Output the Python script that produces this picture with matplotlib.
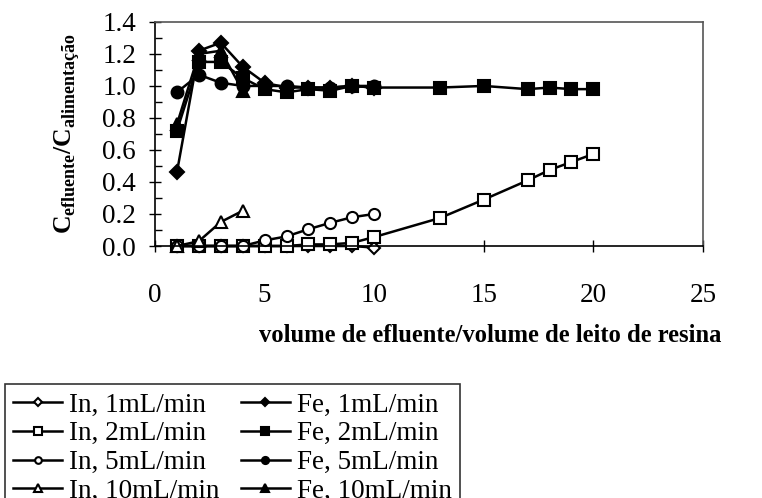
import matplotlib
matplotlib.use("Agg")
import matplotlib.pyplot as plt
from matplotlib.ticker import MultipleLocator, FormatStrFormatter

plt.rcParams['font.family'] = 'Liberation Serif'
plt.rcParams['mathtext.fontset'] = 'custom'
plt.rcParams['mathtext.rm'] = 'Liberation Serif'
plt.rcParams['mathtext.bf'] = 'Liberation Serif:bold'

# dados
x_10 = [1, 2, 3, 4, 5, 6, 7, 8, 9, 10]
x_20 = [1, 2, 3, 4, 5, 6, 7, 8, 9, 10, 13, 15, 17, 18, 19, 20]
x_4 = [1, 2, 3, 4]

in_1 = [0.0, 0.0, 0.0, 0.0, 0.0, 0.0, 0.0, 0.0, 0.0, -0.01]
in_2 = [0.0, 0.0, 0.0, 0.0, 0.0, 0.0, 0.01, 0.01, 0.02, 0.056, 0.175, 0.29, 0.41, 0.475, 0.525, 0.575]
in_5 = [0.0, 0.0, 0.0, 0.0, 0.035, 0.06, 0.105, 0.145, 0.18, 0.2]
in_10 = [0.0, 0.03, 0.15, 0.22]

fe_1 = [0.46, 1.22, 1.27, 1.12, 1.02, 0.99, 0.99, 0.99, 1.0, 0.99]
fe_2 = [0.72, 1.15, 1.15, 1.05, 0.98, 0.96, 0.98, 0.97, 1.0, 0.99, 0.99, 1.0, 0.98, 0.99, 0.98, 0.98]
fe_5 = [0.96, 1.07, 1.02, 1.0, 1.0, 1.0, 0.99, 0.99, 1.0, 1.0]
fe_10 = [0.76, 1.2, 1.22, 0.97]

fig = plt.figure(figsize=(7.62, 4.98), dpi=100)
ax = fig.add_axes([0.2034, 0.506, 0.7192, 0.45])

kw = dict(color='black', linewidth=1.8, markeredgewidth=1.5, clip_on=False)
h = []
h += ax.plot(x_10, in_1, marker='D', mfc='white', ms=6.5, label='In, 1mL/min', **kw)
h += ax.plot(x_20, in_2, marker='s', mfc='white', ms=8.5, label='In, 2mL/min', **kw)
h += ax.plot(x_10, in_5, marker='o', mfc='white', ms=8, label='In, 5mL/min', **kw)
h += ax.plot(x_4, in_10, marker='^', mfc='white', ms=8.5, label='In, 10mL/min', **kw)
h += ax.plot(x_10, fe_1, marker='D', mfc='black', ms=7, label='Fe, 1mL/min', **kw)
h += ax.plot(x_20, fe_2, marker='s', mfc='black', ms=8.5, label='Fe, 2mL/min', **kw)
h += ax.plot(x_10, fe_5, marker='o', mfc='black', ms=8.5, label='Fe, 5mL/min', **kw)
h += ax.plot(x_4, fe_10, marker='^', mfc='black', ms=8.5, label='Fe, 10mL/min', **kw)

ax.set_xlim(0, 25)
ax.set_ylim(0, 1.4)
ax.xaxis.set_major_locator(MultipleLocator(5))
ax.yaxis.set_major_locator(MultipleLocator(0.2))
ax.yaxis.set_minor_locator(MultipleLocator(0.1))
ax.yaxis.set_major_formatter(FormatStrFormatter('%.1f'))
ax.tick_params(axis='x', direction='inout', length=9, width=1, labelsize=19.5, pad=22)
ax.tick_params(axis='y', which='major', direction='inout', length=9, width=1, labelsize=19.5, pad=9)
ax.tick_params(axis='y', which='minor', direction='in', length=5, width=1)

for s in ['top', 'right']:
    ax.spines[s].set_color('#555555')
    ax.spines[s].set_linewidth(1.2)
ax.spines['left'].set_linewidth(1.2)
ax.spines['bottom'].set_linewidth(1.2)

ax.set_ylabel(r'$\mathbf{C}_{\mathbf{efluente}}\mathbf{/C}_{\mathbf{alimentação}}$', fontsize=18.5, labelpad=15)
fig.text(0.643, 0.327, 'volume de efluente/volume de leito de resina', fontsize=17.7,
         fontweight='bold', ha='center', va='center')

leg = fig.legend(handles=h, ncol=2, loc='upper left', bbox_to_anchor=(0.007, 0.228),
                 fontsize=19.5, frameon=True, fancybox=False, edgecolor='black',
                 handlelength=1.8, handletextpad=0.25, columnspacing=0.8,
                 labelspacing=0.14, borderpad=0.3, borderaxespad=0, markerscale=0.6)
leg.get_frame().set_linewidth(1.2)

fig.savefig('out.png', dpi=100)
